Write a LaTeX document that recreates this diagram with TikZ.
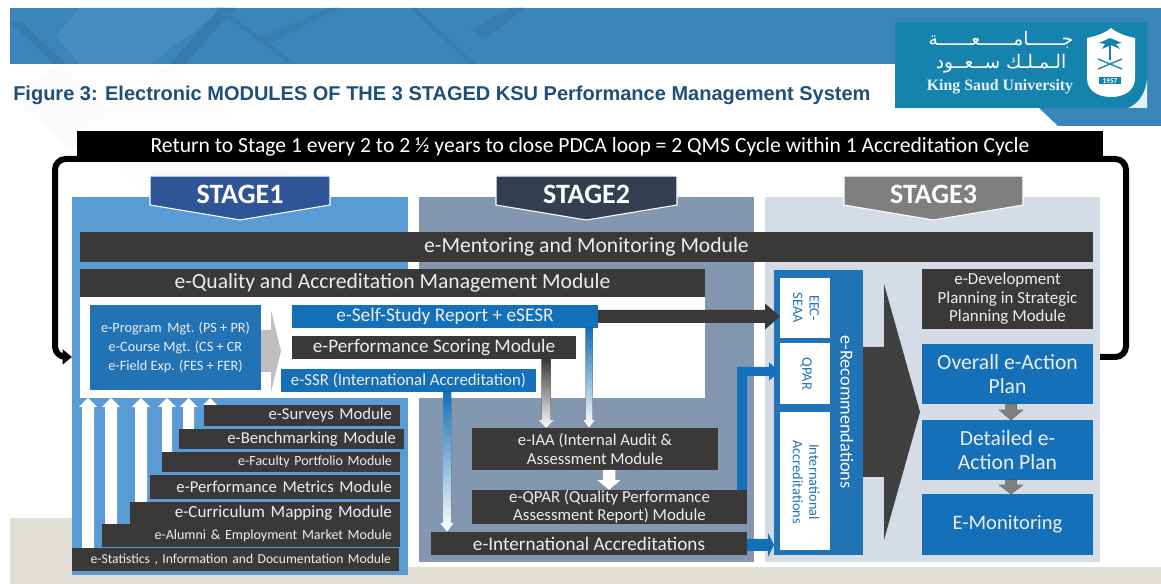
\documentclass[tikz,border=0pt]{standalone}
\usepackage{fontspec}
\setmainfont{Carlito}
\newfontfamily\ttlfont{Liberation Sans}
\newfontfamily\serfont{Liberation Serif}
\newfontfamily\arabicfont[Script=Arabic]{DejaVu Sans}
\TeXXeTstate=1
\usetikzlibrary{calc,arrows.meta}
\definecolor{dk}{HTML}{3B3838}
\definecolor{bandc}{HTML}{3A86BA}
\definecolor{logoc}{HTML}{1583AE}
\definecolor{pa}{HTML}{5B9BD5}
\definecolor{pb}{HTML}{8497B0}
\definecolor{pc}{HTML}{D6DCE5}
\definecolor{bl}{HTML}{2272B6}
\definecolor{brt}{HTML}{1470B8}
\definecolor{txt}{HTML}{EDEDED}
\definecolor{beige}{HTML}{E2DFD5}
\definecolor{navy}{HTML}{1F4E79}
\definecolor{sa}{HTML}{2F5597}
\definecolor{sb}{HTML}{333F50}
\definecolor{sc}{HTML}{7F7F7F}
\definecolor{bigarrow}{HTML}{404040}
\newcommand{\fs}[2][1.2]{\fontsize{#2pt}{#1\dimexpr #2pt\relax}\selectfont}
\tikzset{
 bx/.style={inner sep=0pt,outer sep=0pt,align=center,text=txt},
 darkbox/.style={bx,fill=dk},
 bluebox/.style={bx,fill=bl},
 brightbox/.style={bx,fill=brt},
 panel/.style={bx},
 whitebox/.style={bx,fill=white,text=bl},
 stagelabel/.style={inner sep=0pt,text=white,font=\fs{21}},
}
\newcommand{\bxn}[7]{\node[#6,minimum width={(#4-#2)*0.75pt},minimum height={(#5-#3)*0.75pt}] (#1) at ({(#2+#4)/2},{(#3+#5)/2}) {#7};}
\newcommand{\modn}[7]{\node[darkbox,align=right,minimum width={(#4-#2)*0.75pt},minimum height={(#5-#3)*0.75pt},text width={(#4-#2-16)*0.75pt},font=\fs{#6}] (#1) at ({(#2+#4)/2},{(#3+#5)/2}) {#7};}
\newcommand{\stagen}[5]{\fill[#4,draw=white,line width=.8pt] (#2,176)--(#3,176)--(#3,205)--({(#2+#3)/2},220)--(#2,205)--cycle;
 \node[stagelabel] (#1) at ({(#2+#3)/2},194) {\bfseries #5};}
\newcommand{\fatdown}[8]{\coordinate (tx) at (#3,0);
 \coordinate (A) at (tx |- #1.south); \coordinate (B) at (tx |- #2.north);
 \fill[top color=#7,middle color=#7,bottom color=#8] ($(A)+(-#4,0)$)--($(A)+(#4,0)$)--($(B)+(#4,-#6)$)--($(B)+(#5,-#6)$)--(B)--($(B)+(-#5,-#6)$)--($(B)+(-#4,-#6)$)--cycle;}
\newcommand{\fatup}[6]{\coordinate (tx) at (#3,0);
 \coordinate (A) at (tx |- #1.north); \coordinate (B) at (tx |- #2.south);
 \fill[white] ($(A)+(-#4,0)$)--($(A)+(#4,0)$)--($(B)+(#4,#6)$)--($(B)+(#5,#6)$)--(B)--($(B)+(-#5,#6)$)--($(B)+(-#4,#6)$)--cycle;}
\newcommand{\fatright}[7]{\coordinate (ty) at (0,#3);
 \coordinate (A) at (#1.east |- ty); \coordinate (B) at (#2.west |- ty);
 \fill[#7] ($(A)+(0,-#4)$)--($(B)+(-#6,-#4)$)--($(B)+(-#6,-#5)$)--(B)--($(B)+(-#6,#5)$)--($(B)+(-#6,#4)$)--($(A)+(0,#4)$)--cycle;}
\begin{document}
\begin{tikzpicture}[x=0.75pt,y=-0.75pt]
\useasboundingbox (0,0) rectangle (1161,584);
% background
\fill[beige] (10,518) rectangle (1161,584);
\fill[white] (72,518) rectangle (1161,567);
\fill[gray!3] (10,95)--(60,64)--(120,120)--(70,150)--cycle;
\fill[gray!2] (80,130)--(170,64)--(330,210)--(150,200)--cycle;
% band
\fill[bandc] (10,8) rectangle (1161,64);
\fill[bandc] (1039,108)--(1058,126)--(1161,126)--(1161,60)--(1039,60)--cycle;
\fill[bandc!92!black] (10,22)--(55,64)--(65,64)--(22,22)--cycle;
\fill[bandc!94!white] (55,36)--(80,8)--(225,8)--(150,64)--(80,64)--cycle;
\fill[bandc!92!black] (170,64)--(220,8)--(235,8)--(185,64)--cycle;
\fill[bandc!95!black] (255,40)--(330,8)--(340,8)--(265,46)--cycle;
\fill[bandc!94!black] (215,8)--(290,64)--(296,64)--(222,8)--cycle;
\fill[bandc!94!black] (410,8)--(470,64)--(476,64)--(416,8)--cycle;
\fill[bandc!94!black] (470,30)--(510,8)--(525,8)--(485,40)--cycle;
% logo
\fill[logoc] (895,22) rectangle (1147,108);
\fill[white!88!logoc] (1147,108)--(1147,80) .. controls (1145,95) and (1138,104) .. (1128,108)--cycle;
\node[inner sep=0pt,text=white,font=\arabicfont\fs{14}] (ar1) at (1001,40) {\beginR جــــــامــــــعــــــة\endR};
\node[inner sep=0pt,text=white,font=\arabicfont\fs{14}] (ar2) at (1001,64) {\beginR الـمـلـك  ســعــود\endR};
\node[inner sep=0pt,text=white!90!logoc,font=\serfont\fs{11.9}\bfseries] (ksu) at (1000,87) {King Saud University};
\fill[white] (1087,38) .. controls (1097,36) and (1105,33) .. (1111,28) .. controls (1117,33) and (1125,36) .. (1135,38)--(1135,78) .. controls (1135,90) and (1125,97) .. (1111,97) .. controls (1097,97) and (1087,90) .. (1087,78)--cycle;
\draw[logoc,line width=1.4pt] (1110,44)--(1110,60);
\fill[logoc] (1110,38) -- (1122,43) -- (1116,44) -- (1120,49) -- (1111,45) -- (1102,49) -- (1105,44) -- (1099,43) -- cycle;
\draw[logoc,line width=1pt] (1098,59)--(1122,69) (1122,59)--(1098,69);
\node[fill=logoc,text=white,inner sep=0.8pt,minimum width=16.5pt,font=\fs{5.5}\bfseries] (yr) at (1110,81) {1957};
% title
\node[inner sep=0pt,anchor=west,text=navy,font=\ttlfont\fs{15}\bfseries] (title) at (13,95) {Figure 3: Electronic MODULES OF THE 3 STAGED KSU Performance Management System};
% panels
\bxn{pone}{72}{197}{408}{575}{panel,fill=pa}{}
\bxn{ptwo}{419}{197}{754}{562}{panel,fill=pb}{}
\bxn{pthree}{765}{197}{1100}{562}{panel,fill=pc}{}
% return bar and loop
\bxn{ret}{77}{131}{1103}{162}{bx,fill=black,text=white,font=\fs{16.2}}{Return to Stage 1 every 2 to 2 ½ years to close PDCA loop = 2 QMS Cycle within 1 Accreditation Cycle}
\coordinate (ly) at (0,357);
\coordinate (tyy) at (0,159);
\coordinate (lx) at (55,0);
\coordinate (rx) at (1126,0);
\draw[black,line width=4.5pt,rounded corners=8pt,-{Triangle[length=7pt,width=11pt]}] (ret.west |- tyy)--(lx |- tyy)--(lx |- ly)--(pone.west |- ly);
\draw[black,line width=4.5pt,rounded corners=8pt] (ret.east |- tyy)--(rx |- tyy)--(rx |- ly)--(pthree.east |- ly);
% stages
\stagen{s1}{150}{330}{sa}{STAGE1}
\stagen{s2}{496}{677}{sb}{STAGE2}
\stagen{s3}{844}{1023}{sc}{STAGE3}
% top bars
\bxn{ment}{80}{232}{1093}{262}{darkbox,font=\fs{16.2}}{e-Mentoring and Monitoring Module}
\bxn{inner}{80}{297}{705}{398}{bx,fill=white}{}
\bxn{qual}{80}{269}{705}{297}{darkbox,font=\fs{16.2}}{e-Quality and Accreditation Management Module}
% stack of modules
\modn{surv}{204}{405}{400}{426}{12.5}{e-Surveys Module}
\modn{bench}{179}{429}{404}{449}{12.5}{e-Benchmarking Module}
\modn{fac}{162}{452}{400}{472}{10.5}{e-Faculty Portfolio Module}
\modn{perfm}{150}{475}{400}{499}{12.5}{e-Performance Metrics Module}
\modn{curr}{130}{502}{400}{524}{12.8}{e-Curriculum Mapping Module}
\modn{alum}{102}{524}{400}{547}{10.5}{e-Alumni \& Employment Market Module}
\modn{stat}{72}{548}{399}{571}{10.2}{e-Statistics , Information and Documentation Module}
% white up arrows
\fatup{stat}{inner}{88}{6}{9}{9}
\fatup{alum}{inner}{111}{6}{9}{9}
\fatup{curr}{inner}{141}{6}{9}{9}
\fatup{fac}{inner}{167}{5}{9}{9}
\fatup{bench}{inner}{188.5}{5.5}{9}{9}
\fatup{surv}{inner}{210}{3}{7}{7}
% left program box
\bxn{prog}{90}{305}{261}{390}{bluebox,font={\fs[1.35]{10.7}}}{e-Program\, Mgt. (PS + PR)\\e-Course Mgt. (CS + CR\\e-Field Exp. (FES + FER)}
\bxn{ssr}{292}{305}{598}{328}{brightbox,font=\fs{14.5}}{e-Self-Study Report + eSESR}
\bxn{score}{292}{336}{576}{359}{darkbox,font=\fs{14.4}}{e-Performance Scoring Module}
\bxn{issr}{281}{369}{536}{392}{brightbox,font=\fs{12.6}}{e-SSR (International Accreditation)}
% gray arrow from program box
\coordinate (gy) at (0,351);
\coordinate (ga) at (prog.east |- gy);
\fill[gray!50] ($(ga)+(0,-21)$)--($(ga)+(10,-21)$)--($(ga)+(10,-41)$)--($(ga)+(20,0)$)--($(ga)+(10,41)$)--($(ga)+(10,21)$)--($(ga)+(0,21)$)--cycle;
% stage 2 boxes
\bxn{iaa}{472}{428}{718}{470}{darkbox,font={\fs[1.14]{12.5}}}{e-IAA (Internal Audit \&\\Assessment Module}
\bxn{qpar}{472}{490}{747}{524}{darkbox,font={\fs[1.07]{12.6}}}{e-QPAR (Quality Performance\\Assessment Report) Module}
\bxn{intl}{431}{532}{747}{555}{darkbox,font=\fs{14.4}}{e-International Accreditations}
% gradient arrows
\fatdown{score}{iaa}{546}{4.5}{8}{8}{dk}{white}
\fatdown{ssr}{iaa}{589}{3.5}{6}{8}{brt}{white}
\fatdown{issr}{intl}{447}{4}{7}{9}{brt}{white}
% white arrow iaa to qpar
\fatdown{iaa}{qpar}{609}{6.5}{12}{10}{white}{white}
% stage 3
\bxn{recs}{774}{270}{863}{555}{bx,fill=bl}{}
\node[inner sep=0pt,text=white,rotate=-90,font=\fs{13.7}] (recl) at (847,412) {e-Recommendations};
\bxn{w1}{780}{278}{830}{338}{whitebox}{}
\bxn{w2}{780}{343}{830}{404}{whitebox}{}
\bxn{w3}{780}{412}{830}{550}{whitebox}{}
\node[inner sep=0pt,text=bl,rotate=-90,align=center,font={\fs[1.15]{10.8}}] (w1l) at (806,308) {EEC-\\SEAA};
\node[inner sep=0pt,text=bl,rotate=-90,font=\fs{10.8}] (w2l) at (806,374) {QPAR};
\node[inner sep=0pt,text=bl,rotate=-90,align=center,font={\fs[1.15]{10.8}}] (w3l) at (806,482) {International\\Accreditations};
% connectors into stage 3
\fatright{ssr}{w1}{316.5}{6.5}{13}{15}{dk}
\fatright{intl}{recs}{545}{6}{12}{6}{brt}
\coordinate (qa) at (737,367);
\coordinate (qb) at (747,376);
\coordinate (qt) at (0,371.5);
\coordinate (qn) at (w2.west |- qt);
\fill[brt] (qa |- qpar.north) -- (qa) -- ($(qn)+(-11,-4.5)$) -- ($(qn)+(-11,-9)$) -- (qn) -- ($(qn)+(-11,9)$) -- ($(qn)+(-11,4.5)$) -- (qb) -- (qb |- qpar.north) -- cycle;
% big arrow
\coordinate (bay) at (0,412);
\coordinate (ba) at (recs.east |- bay);
\fill[bigarrow] ($(ba)+(0,-65)$)--($(ba)+(21,-65)$)--($(ba)+(21,-128)$)--($(ba)+(57,0)$)--($(ba)+(21,128)$)--($(ba)+(21,65)$)--($(ba)+(0,65)$)--cycle;
% right column
\bxn{dev}{922}{269}{1093}{329}{darkbox,font={\fs[1.09]{12.7}}}{e-Development\\Planning in Strategic\\Planning Module}
\bxn{over}{922}{344}{1093}{404}{brightbox,font={\fs[1.11]{16.2}}}{Overall e-Action\\Plan}
\bxn{det}{922}{420}{1093}{480}{brightbox,font={\fs[1.11]{16.2}}}{Detailed e-\\Action Plan}
\bxn{mon}{922}{494}{1093}{555}{brightbox,font=\fs{15.4}}{E-Monitoring}
\fatdown{over}{det}{1011}{5.5}{12}{10}{sc}{sc}
\fatdown{det}{mon}{1011}{5.5}{12}{9}{sc}{sc}
\end{tikzpicture}
\end{document}
